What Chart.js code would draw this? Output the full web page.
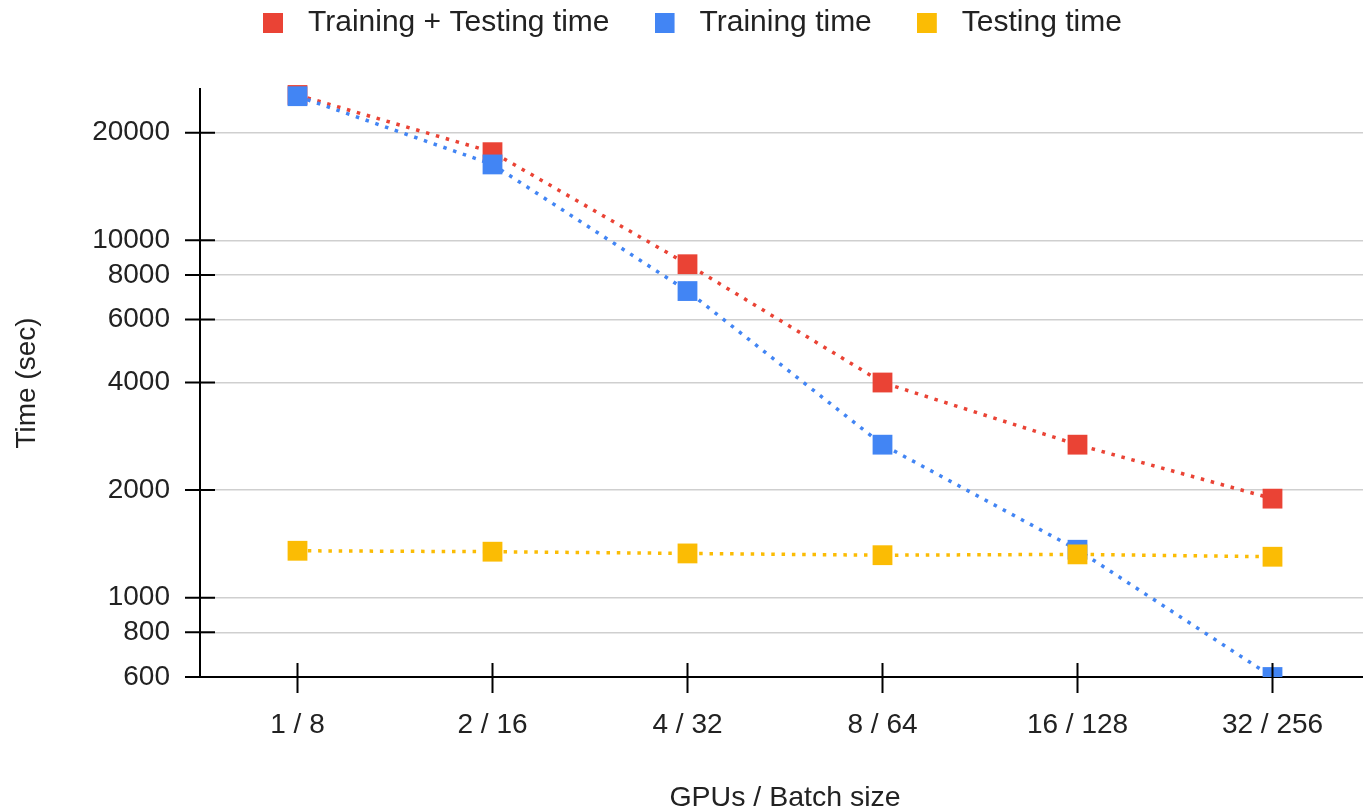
<!DOCTYPE html>
<html>
<head>
<meta charset="utf-8">
<title>Training and testing time</title>
<script src="https://cdn.jsdelivr.net/npm/chart.js@4.4.1/dist/chart.umd.min.js"></script>
<style>
  html, body { margin: 0; padding: 0; background: #fff; overflow: hidden; }
</style>
</head>
<body>
<canvas id="timeChart" width="1384" height="812"></canvas>
<script>
const batchLabels = ["1 / 8", "2 / 16", "4 / 32", "8 / 64", "16 / 128", "32 / 256"];
const totalTime = [25500, 17640, 8570, 4000, 2680, 1893];
const trainTime = [25300, 16300, 7210, 2680, 1362, 600];
const testTime = [1353, 1345, 1330, 1315, 1322, 1302];
const yTicks = [600, 800, 1000, 2000, 4000, 6000, 8000, 10000, 20000];

const FONT = "'Liberation Sans', Arial, sans-serif";
const TEXT = '#222';
const colors = ['#ea4335', '#4285f4', '#fbbc04'];

Chart.defaults.font.family = FONT;
Chart.defaults.color = TEXT;

// legend swatch: square on the left, blank space after it
function swatch(color) {
  const c = document.createElement('canvas');
  c.width = 30;
  c.height = 20;
  const g = c.getContext('2d');
  g.fillStyle = color;
  g.fillRect(0, 0, 20, 20);
  return c;
}
const swatches = colors.map(swatch);

// tick marks that cross the axis lines
const crossTicks = {
  id: 'crossTicks',
  afterDatasetsDraw(chart) {
    const {ctx, scales: {x, y}} = chart;
    ctx.save();
    ctx.strokeStyle = '#000';
    ctx.lineWidth = 2;
    ctx.beginPath();
    y.ticks.forEach((t, i) => {
      const py = y.getPixelForTick(i);
      ctx.moveTo(y.right - 15, py);
      ctx.lineTo(y.right + 15, py);
    });
    x.ticks.forEach((t, i) => {
      const px = x.getPixelForTick(i);
      ctx.moveTo(px, x.top - 14);
      ctx.lineTo(px, x.top + 16);
    });
    ctx.stroke();
    ctx.restore();
  }
};

// put the legend row where it sits in the original
const legendPlace = {
  id: 'legendPlace',
  afterLayout(chart) {
    chart.legend.left = 218;
    chart.legend.top = -37;
  }
};

function series(label, data, i, order) {
  return {
    label: label,
    data: data,
    order: order,
    borderColor: colors[i],
    backgroundColor: colors[i],
    borderWidth: 3.5,
    borderDash: [3.5, 6.8],
    tension: 0,
    pointStyle: 'rect',
    pointRadius: 14,
    pointHoverRadius: 14,
    pointBorderWidth: 0,
    pointHoverBorderWidth: 0,
    clip: {left: false, top: false, right: false, bottom: 0}
  };
}

const ctx = document.getElementById('timeChart').getContext('2d');
const timeChart = new Chart(ctx, {
  type: 'line',
  data: {
    labels: batchLabels,
    datasets: [
      series('Training + Testing time', totalTime, 0, 3),
      series('Training time', trainTime, 1, 2),
      series('Testing time', testTime, 2, 1)
    ]
  },
  options: {
    responsive: false,
    animation: false,
    layout: { padding: { top: 4, right: 2, left: 0, bottom: 0 } },
    plugins: {
      tooltip: { enabled: false },
      legend: {
        align: 'start',
        labels: {
          usePointStyle: true,
          pointStyleWidth: 30,
          boxHeight: 20,
          padding: 45,
          color: TEXT,
          font: { size: 30 },
          sort: (a, b) => a.datasetIndex - b.datasetIndex,
          generateLabels(chart) {
            const items = Chart.defaults.plugins.legend.labels.generateLabels(chart);
            items.forEach(it => { it.pointStyle = swatches[it.datasetIndex]; });
            return items;
          }
        }
      }
    },
    scales: {
      x: {
        offset: true,
        grid: { display: false, drawTicks: false, offset: true },
        border: { display: true, color: '#000', width: 2 },
        ticks: { padding: 31, color: TEXT, font: { size: 28 } },
        title: {
          display: true,
          text: 'GPUs / Batch size',
          color: TEXT,
          font: { size: 28.5, lineHeight: 0.95 },
          padding: { top: 0, bottom: 0 }
        },
        afterFit(scale) { scale.height = 135; }
      },
      y: {
        type: 'logarithmic',
        min: 600,
        max: 26500,
        grid: { color: '#cfcfcf', lineWidth: 1.5, drawTicks: false },
        border: { display: true, color: '#000', width: 2 },
        ticks: {
          padding: 30,
          autoSkip: false,
          color: TEXT,
          font: { size: 28 },
          callback: v => String(v)
        },
        afterBuildTicks(scale) {
          scale.ticks = yTicks.map(v => ({ value: v }));
        },
        title: {
          display: true,
          text: 'Time (sec)',
          color: TEXT,
          font: { size: 28 },
          padding: { top: 10, bottom: 0 }
        },
        afterFit(scale) { scale.width = 200; }
      }
    }
  },
  plugins: [crossTicks, legendPlace]
});
</script>
</body>
</html>
